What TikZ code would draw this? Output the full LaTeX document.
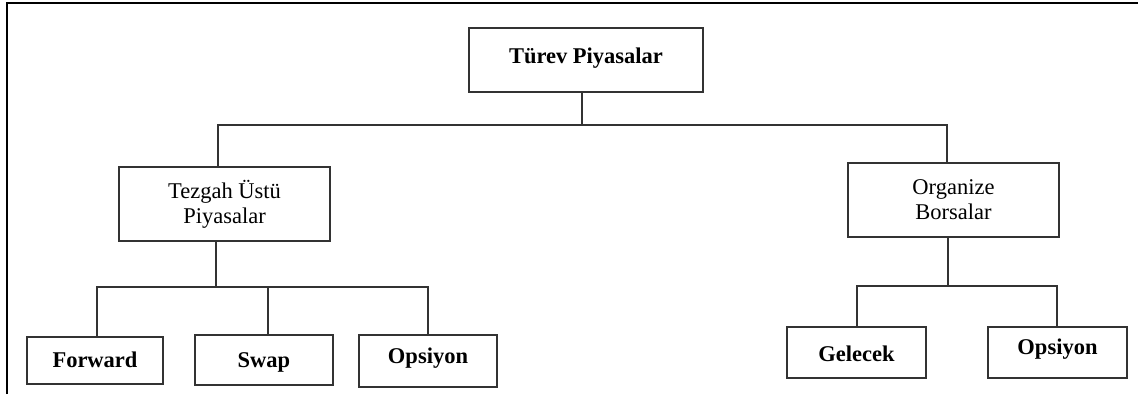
\documentclass[tikz,border=0pt]{standalone}
\usepackage{fontspec}
\setmainfont{Liberation Serif}
\begin{document}
\begin{tikzpicture}[x=1pt,y=-1pt,
  box/.style={draw=black!80, line width=1.6pt, inner sep=0pt, anchor=center, font=\fontsize{22.5}{25}\selectfont, align=center},
  bbox/.style={box, font=\fontsize{22.5}{25}\selectfont\bfseries, text depth=0pt},
  link/.style={draw=black!80, line width=1.6pt},
  frame/.style={draw=black, line width=2pt}]
\useasboundingbox (0,0) rectangle (1138,394);
\draw[frame] (6.5,394) -- (6.5,3) -- (1138,3);
% nodes
\node[bbox, text height=6pt, minimum width=234pt, minimum height=64pt] (top) at (586,60) {Türev Piyasalar};
\node[box, minimum width=211pt, minimum height=74pt] (otc) at (224.5,204) {Tezgah Üstü\\Piyasalar};
\node[box, minimum width=211pt, minimum height=74pt] (org) at (953.5,200) {Organize\\Borsalar};
\node[bbox, text height=13pt, minimum width=136pt, minimum height=47pt] (fwd) at (95,360.5) {Forward};
\node[bbox, text height=14pt, minimum width=138pt, minimum height=50pt] (swap) at (264,360) {Swap};
\node[bbox, text height=4pt, minimum width=138pt, minimum height=52pt] (ops1) at (428,361) {Opsiyon};
\node[bbox, text height=17pt, minimum width=139pt, minimum height=51pt] (gel) at (856.5,352.5) {Gelecek};
\node[bbox, text height=3pt, minimum width=139pt, minimum height=51pt] (ops2) at (1057.5,352.5) {Opsiyon};
% junction coordinates
\coordinate (j0) at (582,125);
\coordinate (jL) at (218,125);
\coordinate (jR) at (947,125);
\coordinate (k0) at (216,287);
\coordinate (kF) at (97,287);
\coordinate (kS) at (268,287);
\coordinate (kO) at (428,287);
\coordinate (m0) at (948,286);
\coordinate (mG) at (857,286);
\coordinate (mO) at (1057,286);
% connectors
\draw[link] (top.south -| j0) -- (j0);
\draw[link] (otc.north -| jL) -- (jL) -- (jR) -- (org.north -| jR);
\draw[link] (otc.south -| k0) -- (k0);
\draw[link] (fwd.north -| kF) -- (kF) -- (kO) -- (ops1.north -| kO);
\draw[link] (kS) -- (swap.north -| kS);
\draw[link] (org.south -| m0) -- (m0);
\draw[link] (gel.north -| mG) -- (mG) -- (mO) -- (ops2.north -| mO);
\end{tikzpicture}
\end{document}
